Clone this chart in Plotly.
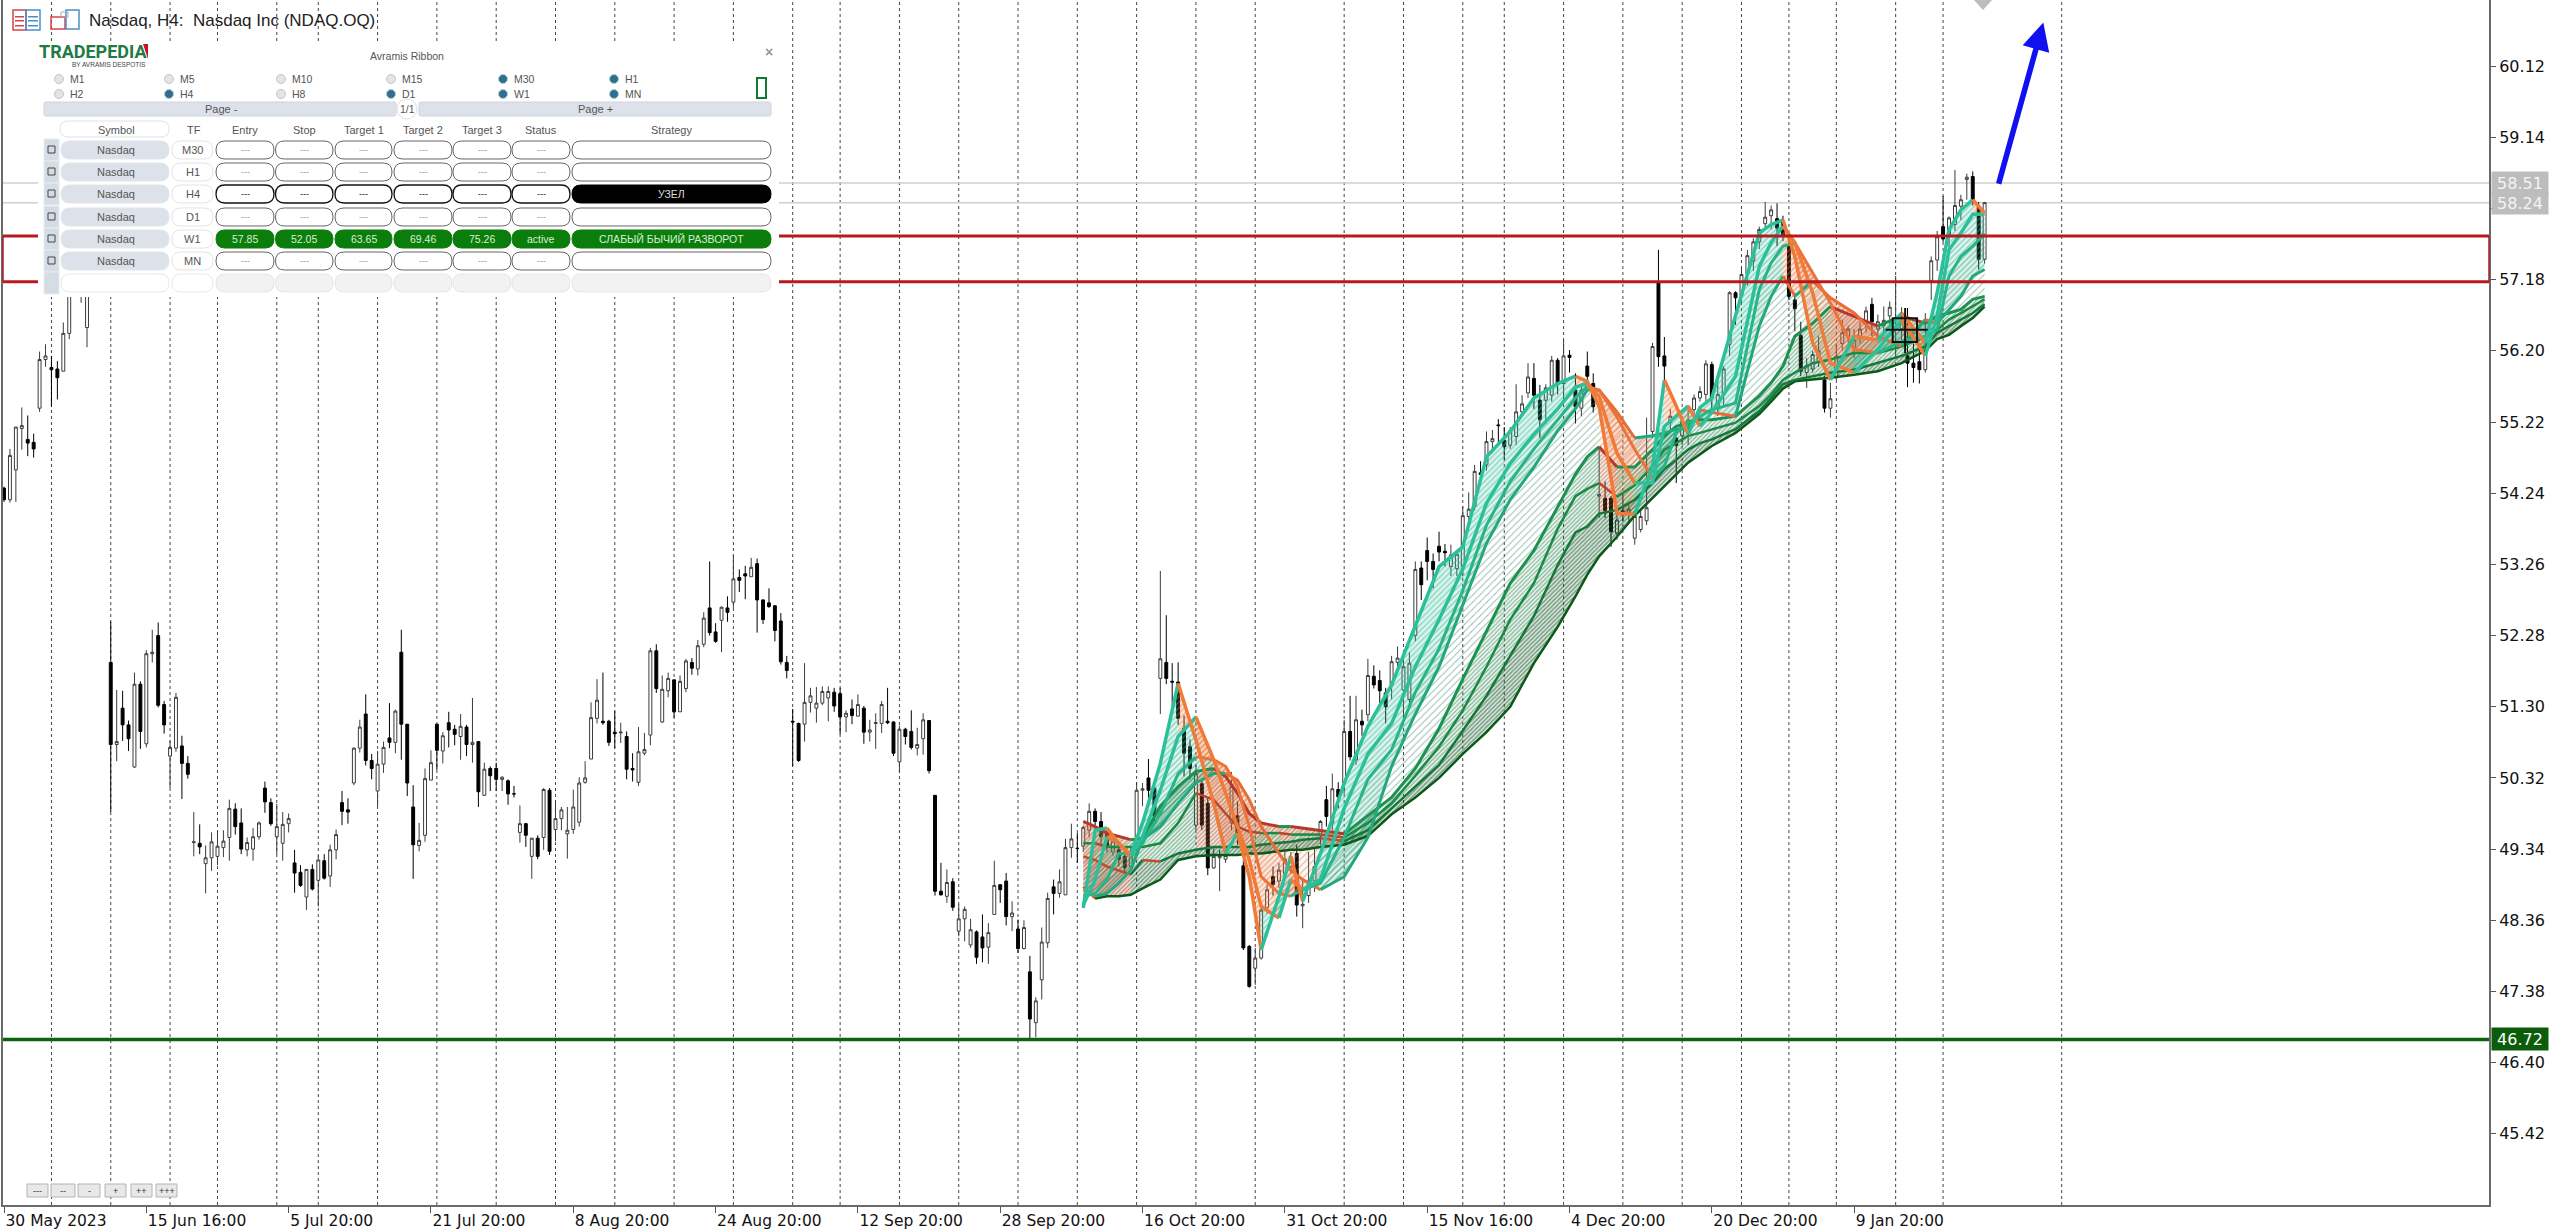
import plotly.graph_objects as go

# ---------- DATA ----------
opens = [
54.31,54.15,54.56,55.13,54.98,54.94,55.41,56.08,55.97,55.95,
55.92,56.44,None,57.0,56.52,None,None,None,51.91,50.78,
51.28,51.05,50.47,51.61,50.79,52.03,52.28,51.33,50.62,50.73,
50.76,50.52,49.43,49.42,49.14,49.22,49.24,49.36,49.50,49.89,
49.70,49.33,49.34,49.51,50.18,49.98,49.51,49.42,49.69,49.15,
49.02,48.68,49.06,48.91,49.18,48.97,49.33,49.98,49.88,50.25,
50.73,51.20,50.56,50.14,50.51,50.87,50.81,52.05,51.06,49.92,
49.39,49.53,50.29,51.06,50.69,51.08,50.99,50.89,51.02,50.78,
50.82,50.08,50.45,50.45,50.30,50.28,50.10,49.57,49.69,49.24,
49.49,49.50,50.15,49.61,49.76,49.55,49.61,49.71,50.26,50.58,
51.14,51.10,51.10,50.95,50.94,50.89,50.45,50.26,50.66,50.91,
52.07,51.09,51.52,51.67,51.23,51.55,51.91,51.82,52.16,52.66,
52.33,52.49,52.66,52.74,53.08,53.13,53.09,53.27,52.77,52.73,
52.69,52.48,51.91,51.10,51.07,51.06,51.36,51.28,51.35,51.42,
51.50,51.48,51.16,51.27,51.17,51.28,50.95,51.07,51.07,51.10,
51.09,50.54,50.99,50.96,50.73,50.86,51.11,50.08,48.76,48.69,
48.89,48.21,48.38,48.02,48.20,48.13,47.99,48.44,48.85,48.90,
48.41,48.24,47.97,47.65,46.95,47.54,48.05,48.82,48.73,48.71,
49.36,49.35,49.38,49.60,49.86,49.72,49.55,49.30,49.33,49.24,
49.10,49.51,50.15,50.32,50.18,51.69,51.91,51.65,51.64,51.00,
50.75,49.67,50.24,49.97,49.08,49.22,49.20,49.70,49.80,49.11,
48.00,47.70,47.84,48.53,48.96,48.90,49.00,49.10,49.28,48.56,
48.70,48.90,49.52,50.02,49.70,50.16,50.25,50.96,50.57,51.10,
51.19,51.72,51.66,51.49,51.60,51.91,51.53,51.40,52.28,53.21,
53.45,53.30,53.51,53.44,53.23,53.20,53.23,53.92,54.06,54.52,
54.63,54.95,55.18,54.97,54.90,55.02,55.36,55.62,55.82,55.52,
55.52,55.59,56.07,55.75,56.14,55.66,55.41,55.99,55.75,54.20,
54.17,54.17,53.69,54.00,53.95,53.62,53.74,53.86,55.09,57.14,
56.13,55.21,55.00,55.03,55.21,55.39,55.55,55.60,56.01,55.40,
55.60,56.29,57.00,56.96,57.26,57.44,57.70,57.95,58.06,58.02,
57.98,57.66,56.90,56.41,55.90,55.95,56.05,55.80,55.41,55.83,
56.30,56.40,56.25,56.40,56.58,56.84,56.50,56.55,56.68,56.50,
56.50,56.13,56.03,56.05,55.94,57.17,57.45,57.91,57.80,57.94,
58.19,58.56,58.60,58.18,57.46]
highs = [
54.33,54.85,55.15,55.42,55.31,55.06,56.19,56.29,56.13,56.06,
56.59,57.2,None,57.1,57.2,None,None,None,52.47,51.53,
51.52,51.11,51.77,51.65,52.08,52.36,52.46,51.38,50.83,51.49,
50.90,50.62,49.85,49.68,49.39,49.57,49.58,49.60,50.02,49.97,
49.90,49.50,49.63,49.72,50.27,50.04,49.96,49.85,49.83,49.33,
49.12,49.06,49.13,49.25,49.27,49.40,49.61,50.14,50.04,50.74,
51.12,51.47,50.65,50.69,50.82,51.35,51.26,52.36,51.06,50.22,
49.70,50.45,50.70,51.06,50.95,51.23,51.05,51.20,51.05,51.42,
50.82,50.53,50.48,50.53,50.34,50.30,50.21,49.94,49.70,49.49,
49.53,50.18,50.18,50.01,49.92,49.92,50.16,50.33,50.55,51.36,
51.68,51.77,51.12,51.24,51.08,50.96,50.66,51.02,50.94,52.11,
52.16,51.73,51.77,51.67,51.73,51.96,51.97,52.22,52.60,53.30,
52.45,52.68,52.82,53.38,53.19,53.24,53.35,53.34,52.78,52.93,
52.70,52.59,52.00,51.27,51.08,51.90,51.56,51.57,51.58,51.58,
51.56,51.56,51.25,51.40,51.47,51.31,51.12,51.21,51.38,51.56,
51.10,51.04,51.01,51.25,51.01,51.21,51.11,50.08,49.15,49.06,
48.94,48.58,48.55,48.38,48.22,48.44,48.32,49.18,48.85,49.01,
48.62,48.37,48.36,47.87,47.30,48.26,48.74,48.92,49.06,49.48,
49.69,49.56,49.66,49.97,49.90,49.85,49.60,49.55,49.40,49.30,
49.35,50.26,50.25,50.58,50.20,53.17,52.56,51.90,51.91,51.18,
50.85,50.50,50.30,50.05,49.35,49.33,49.35,50.40,50.00,49.20,
48.02,47.98,48.60,48.85,49.10,49.15,49.30,49.30,49.40,48.92,
49.30,49.35,49.74,50.21,50.38,50.26,51.12,51.45,51.45,51.26,
51.96,51.87,51.80,51.56,52.00,52.13,52.08,52.05,53.30,53.30,
53.63,53.41,53.71,53.54,53.53,53.46,54.06,54.25,54.63,54.68,
55.09,55.11,55.26,55.15,55.15,55.74,55.59,56.03,56.03,55.73,
55.74,56.13,56.10,56.35,56.21,55.89,55.75,56.19,55.89,54.88,
54.40,54.20,53.95,54.24,54.10,54.00,54.00,55.28,56.31,57.59,
56.39,55.40,55.00,55.30,55.45,55.60,55.71,56.07,56.05,55.85,
55.99,57.02,57.02,57.36,57.59,57.75,57.91,58.25,58.20,58.23,
58.06,57.75,57.00,56.60,56.10,56.20,56.40,55.85,55.76,56.30,
56.63,56.55,56.50,56.60,56.81,56.93,56.70,56.81,56.88,57.23,
56.80,56.79,56.30,56.30,56.72,57.50,57.85,58.33,58.05,58.69,
58.35,58.64,58.67,58.25,58.25]
lows = [
54.12,54.11,54.12,54.84,54.75,54.73,55.36,55.98,55.43,55.53,
55.92,56.36,None,56.86,56.25,None,None,None,49.85,50.55,
50.83,50.69,50.46,50.72,50.74,51.91,51.29,50.93,50.18,50.68,
50.03,50.31,49.24,49.27,48.73,49.04,49.12,49.23,49.18,49.54,
49.27,49.24,49.18,49.47,49.84,49.66,49.27,49.18,49.57,48.74,
48.82,48.50,48.77,48.55,48.92,48.82,49.20,49.67,49.69,50.22,
50.67,50.49,50.30,49.93,50.39,50.73,50.66,50.57,50.07,48.93,
49.31,49.44,50.29,50.43,50.52,50.74,50.77,50.57,50.62,50.53,
49.92,50.07,50.14,50.14,50.14,49.95,50.05,49.43,49.37,48.93,
49.20,49.33,49.26,49.45,49.60,49.21,49.55,49.65,50.24,50.58,
51.07,51.05,50.76,50.73,50.80,50.30,50.27,50.21,50.63,50.77,
51.49,51.08,51.43,51.15,51.23,51.50,51.74,51.73,52.12,52.28,
52.18,52.05,52.47,52.66,52.88,52.78,53.09,52.32,52.44,52.66,
52.20,51.88,51.69,50.48,50.54,50.82,51.22,51.08,51.32,51.10,
51.23,50.92,50.95,51.06,51.17,50.79,50.82,50.72,50.94,51.06,
50.62,50.40,50.78,50.71,50.63,50.64,50.38,48.70,48.70,48.60,
48.49,48.14,48.07,47.98,47.76,47.78,47.76,48.44,48.60,48.29,
48.21,47.91,47.96,46.73,46.75,47.27,47.98,48.44,48.67,48.71,
49.22,49.15,49.30,49.50,49.55,49.40,49.30,49.25,49.10,49.00,
49.05,49.51,49.93,50.04,49.70,51.20,51.61,51.32,51.05,50.34,
50.30,49.60,49.60,48.98,49.07,48.76,49.15,49.60,49.40,47.95,
47.43,47.47,47.82,48.45,48.70,48.80,48.90,49.00,48.41,48.25,
48.60,48.75,49.40,49.65,49.60,49.90,50.10,50.56,50.50,50.90,
51.10,51.55,51.30,51.07,51.40,51.85,51.10,51.30,52.20,52.77,
53.04,52.93,53.30,53.23,53.10,53.10,53.10,53.87,54.00,54.35,
54.55,54.79,54.93,54.70,54.85,54.90,55.30,55.55,55.40,55.00,
55.20,55.50,55.60,55.50,55.90,55.20,55.30,55.80,55.35,53.90,
53.90,53.50,53.60,53.85,53.85,53.53,53.70,53.80,55.00,55.98,
55.76,55.10,54.38,54.90,54.90,55.30,55.50,55.50,55.40,55.30,
55.45,56.13,56.56,56.86,57.10,57.30,57.60,57.87,57.87,57.64,
57.71,56.90,56.47,55.85,55.69,55.90,55.98,55.35,55.28,55.80,
56.20,56.30,56.10,56.30,56.45,56.40,56.40,56.40,56.50,56.10,
56.30,55.70,55.76,55.75,55.90,56.90,57.30,57.70,57.55,57.85,
58.00,58.28,58.20,57.32,57.40]
closes = [
54.15,54.76,55.15,55.17,54.93,54.85,56.08,56.13,55.94,55.83,
56.44,57.05,None,57.05,57.1,None,None,None,50.78,50.82,
51.05,50.86,51.61,50.96,52.03,52.05,51.32,51.05,50.74,51.43,
50.52,50.37,49.44,49.37,49.22,49.44,49.38,49.45,49.90,49.65,
49.34,49.43,49.51,49.70,49.99,49.69,49.65,49.68,49.76,49.01,
48.84,49.06,48.79,49.19,48.94,49.33,49.54,49.86,49.85,50.73,
51.02,50.56,50.45,50.51,50.74,50.81,51.24,51.06,50.25,49.40,
49.46,50.31,50.53,50.70,50.90,50.98,50.92,51.03,50.78,50.81,
50.13,50.44,50.35,50.30,50.33,50.10,50.10,49.69,49.53,49.49,
49.24,50.16,49.31,49.76,49.88,49.60,49.92,50.25,50.32,51.15,
51.39,51.08,50.81,50.93,50.95,50.44,50.43,50.68,50.71,52.07,
51.55,51.54,51.69,51.23,51.65,51.93,51.83,52.14,52.52,52.32,
52.20,52.67,52.60,53.06,53.04,53.10,53.22,52.77,52.50,52.68,
52.35,51.92,51.80,51.09,50.56,51.36,51.45,51.35,51.51,51.51,
51.31,51.16,51.21,51.18,51.33,50.95,50.98,51.08,51.33,51.08,
50.66,50.99,50.89,50.74,50.78,51.12,50.42,48.76,48.71,48.88,
48.54,48.38,48.51,48.23,47.85,47.98,48.19,48.84,48.78,48.41,
48.46,47.97,48.26,47.00,47.25,48.06,48.66,48.73,48.89,49.36,
49.48,49.35,49.64,49.86,49.72,49.51,49.37,49.45,49.20,49.08,
49.25,50.15,50.17,50.15,49.79,51.96,51.69,51.64,51.14,50.66,
50.45,50.38,49.67,49.08,49.24,49.24,49.25,50.20,49.50,47.98,
47.45,47.84,48.50,48.78,48.85,49.05,49.20,49.20,48.57,48.58,
48.90,49.10,49.72,49.79,50.17,50.06,50.96,50.61,51.12,51.05,
51.73,51.60,51.52,51.30,51.92,51.97,51.85,51.90,53.19,52.98,
53.30,53.19,53.43,53.42,53.39,53.40,53.93,54.02,54.54,54.50,
54.95,54.99,55.17,54.88,55.10,55.36,55.47,55.84,55.59,55.25,
55.69,56.07,55.75,56.13,56.11,55.43,55.66,55.85,55.43,54.22,
54.00,53.71,53.87,53.94,54.02,53.92,53.92,54.04,56.26,56.12,
55.99,55.30,54.90,55.23,55.25,55.55,55.64,56.02,55.55,55.60,
55.95,57.00,56.93,57.25,57.51,57.70,57.87,58.04,58.14,57.89,
57.78,56.95,56.78,55.92,56.00,56.15,56.20,55.41,55.54,56.13,
56.45,56.50,56.35,56.50,56.75,56.60,56.60,56.62,56.80,56.52,
56.60,56.03,55.97,55.94,56.15,57.44,57.77,57.74,58.03,58.20,
58.28,58.59,58.28,57.46,58.24]

ribbon_bars = [182,184,186,188,190,192,195,198,201,204,206,208,210,212,215,217,219,222,226,230,234,238,242,246,250,254,258,262,265,267,269,272,275,278,280,282,284,286,288,292,296,298,300,302,305,308,312,316,320,324,326,328,330,332,334]
ribbon_a = [48.53,49.6,49.63,49.42,49.26,49.70,50.52,51.62,50.84,49.97,49.28,49.56,48.96,47.95,48.69,49.24,48.62,49.28,50.25,51.03,51.6,52.4,53.23,53.5,54.74,55.09,55.55,55.75,55.85,55.78,55.43,53.96,53.95,54.61,55.8,55.44,55.05,55.42,55.55,56.68,57.82,57.94,58.0,57.5,56.31,55.8,56.4,56.35,56.72,56.31,57.0,57.87,58.14,58.28,58.1]
ribbon_b = [48.57,48.92,49.51,49.42,49.24,49.51,50.15,50.89,51.16,50.57,50.11,49.65,49.19,48.55,48.39,48.92,48.78,48.92,49.9,50.65,51.07,51.85,52.5,53.2,54.1,54.65,55.05,55.4,55.7,55.75,55.57,54.79,54.38,54.38,55.16,55.3,55.44,55.16,55.35,55.85,57.36,57.69,57.92,57.69,57.0,56.03,55.9,56.22,56.63,56.13,56.68,57.59,57.82,58.08,58.08]
ribbon_c = [48.69,48.73,48.92,49.28,49.28,49.42,49.83,50.38,50.61,50.57,50.48,50.2,49.65,48.96,48.73,48.69,48.78,48.87,49.5,50.3,50.71,51.5,52.1,52.9,53.8,54.4,54.85,55.25,55.55,55.71,55.66,55.29,54.84,54.45,54.61,55.07,55.21,55.3,55.39,55.48,57.04,57.41,57.64,57.69,57.27,56.86,56.22,56.17,56.33,56.4,56.49,57.23,57.5,57.64,57.82]
ribbon_d = [48.78,48.69,48.73,48.87,49.05,49.47,49.65,49.97,50.25,50.38,50.38,50.29,50.02,49.65,49.28,49.05,48.92,48.78,48.96,49.5,50.48,51.2,51.85,52.7,53.55,54.15,54.6,55.1,55.4,55.66,55.66,55.36,55.0,55.03,55.07,55.12,55.12,55.39,55.35,55.3,56.54,56.95,57.23,56.95,57.16,56.93,56.72,56.4,56.26,56.63,56.58,56.77,56.95,57.23,57.32]
ribbon_e = [49.72,49.65,49.56,49.51,49.47,49.49,49.93,50.2,50.41,50.45,50.34,50.11,49.83,49.7,49.65,49.65,49.63,49.6,49.55,49.8,50.05,50.45,51.0,51.68,52.35,53.0,53.45,54.05,54.5,54.74,54.88,54.6,54.6,54.84,55.03,55.16,55.21,55.25,55.25,55.3,55.58,55.76,55.99,56.4,56.58,56.81,56.68,56.54,56.68,56.58,56.68,56.72,56.77,56.91,56.95]
ribbon_f = [49.42,49.42,49.37,49.37,49.37,49.37,49.42,49.7,50.11,50.02,49.83,49.65,49.58,49.56,49.56,49.54,49.54,49.54,49.5,49.7,49.97,50.35,50.75,51.25,51.85,52.5,53.0,53.75,54.2,54.3,54.38,54.19,54.35,54.61,54.84,54.93,55.03,55.07,55.12,55.21,55.44,55.6,55.8,55.9,56.03,56.08,56.17,56.17,56.26,56.4,56.49,56.63,56.72,56.81,56.91]
ribbon_g = [49.24,49.19,49.1,49.05,48.99,49.19,49.17,49.28,49.33,49.37,49.37,49.37,49.37,49.4,49.42,49.44,49.47,49.49,49.45,49.6,49.9,50.2,50.5,50.97,51.45,52.0,52.55,53.25,53.7,53.78,53.96,54.01,54.15,54.38,54.57,54.7,54.84,54.93,54.98,55.12,55.37,55.55,55.74,55.8,55.85,55.9,55.94,56.03,56.13,56.26,56.45,56.54,56.63,56.72,56.84]
ribbon_h = [48.82,48.66,48.69,48.69,48.71,48.8,48.92,49.19,49.24,49.26,49.26,49.26,49.28,49.28,49.31,49.33,49.33,49.37,49.4,49.52,49.82,50.05,50.32,50.65,50.95,51.3,51.9,52.4,52.82,53.12,53.37,53.64,53.93,54.18,54.34,54.5,54.66,54.77,54.89,55.07,55.33,55.5,55.68,55.78,55.8,55.83,55.87,55.92,56.03,56.2,56.36,56.42,56.54,56.65,56.81]

session_bars = [8,18,28,36,46,53,63,73,83,93,103,113,123,133,141,151,161,171,181,191,201,211,226,236,246,253,263,273,283,293,301,309,319,327,347]
time_tick_bars = [0,24,48,72,96,120,144,168,192,216,240,264,288,312]
time_tick_labels = ["30 May 2023","15 Jun 16:00","5 Jul 20:00","21 Jul 20:00","8 Aug 20:00","24 Aug 20:00","12 Sep 20:00","28 Sep 20:00","16 Oct 20:00","31 Oct 20:00","15 Nov 16:00","4 Dec 20:00","20 Dec 20:00","9 Jan 20:00"]
price_ticks = [60.12,59.14,58.16,57.18,56.20,55.22,54.24,53.26,52.28,51.30,50.32,49.34,48.36,47.38,46.40,45.42]
zone_levels = [57.78,57.15]
quote_levels = [58.51,58.24]
support_level = 46.72
arrow_from = (336.3,58.48)
arrow_to = (343.9,60.72)

panel_timeframes = [["M1","M5","M10","M15","M30","H1"],["H2","H4","H8","D1","W1","MN"]]
panel_selected = {"M30","H1","H4","D1","W1","MN"}
panel_headers = ["Entry","Stop","Target 1","Target 2","Target 3","Status"]
panel_rows = ["M30","H1","H4","D1","W1","MN"]
w1_values = ["57.85","52.05","63.65","69.46","75.26","active"]
w1_strategy = "СЛАБЫЙ БЫЧИЙ РАЗВОРОТ"
h4_strategy = "УЗЕЛ"
button_labels = ["---","--","-","+","++","+++"]

assert all(len(v)==335 for v in (opens,highs,lows,closes))
assert all(len(v)==len(ribbon_bars) for v in (ribbon_a,ribbon_b,ribbon_c,ribbon_d,ribbon_e,ribbon_f,ribbon_g,ribbon_h))

# ---------- STYLE / LAYOUT ----------
W,H=2560,1230
L,R,T,B=3,71,0,25
PW,PH=W-L-R,H-T-B
def xp(px): return (px-L)/PW
def yp(py): return 1-(py-T)/PH
FONT="DejaVu Sans"
UI="Liberation Sans"

fig=go.Figure()
fig.add_trace(go.Candlestick(x=list(range(335)),open=opens,high=highs,low=lows,close=closes,
    increasing=dict(line=dict(color="#3c3c3c",width=1),fillcolor="#ffffff"),
    decreasing=dict(line=dict(color="#000000",width=1),fillcolor="#000000"),
    whiskerwidth=0,showlegend=False,hoverinfo="skip"))

def runs(vals):
    out=[];start=0
    sign=lambda k: vals[k+1]>=vals[k]
    for k in range(1,len(vals)-1):
        if sign(k)!=sign(k-1):
            out.append((start,k,sign(start)));start=k
    out.append((start,len(vals)-1,sign(start)))
    return out

lines=[ribbon_a,ribbon_b,ribbon_c,ribbon_d,ribbon_e,ribbon_f,ribbon_g,ribbon_h]
band_style=[
 # up fg, up bg, down fg, down bg, size, solidity
 ("#2bbd94","rgba(43,189,148,0.16)","#ef7a3a","rgba(239,122,58,0.18)",4,0.35),
 ("#2bae84","rgba(43,189,148,0.14)","#e8703a","rgba(239,122,58,0.16)",4,0.35),
 ("#259e78","rgba(43,174,132,0.16)","#e0683a","rgba(232,112,58,0.16)",4,0.35),
 ("#2f7f5f","rgba(255,255,255,0.0)","#c8603a","rgba(225,150,90,0.08)",5,0.2),
 ("#1f7f45","rgba(40,140,80,0.08)","#a8502f","rgba(190,120,70,0.15)",3,0.38),
 ("#1a7a40","rgba(30,130,70,0.10)","#a0462a","rgba(180,110,60,0.16)",3,0.42),
 ("#0f5224","rgba(20,90,40,0.15)","#98402a","rgba(170,90,50,0.18)",3,0.5),
]
for b,(up_fg,up_bg,dn_fg,dn_bg,size,sol) in enumerate(band_style):
    upper,lower=lines[b],lines[b+1]
    mid=[(p+q)/2 for p,q in zip(upper,lower)]
    for s,e,up in runs(mid):
        xs=ribbon_bars[s:e+1]+ribbon_bars[s:e+1][::-1]
        ys=upper[s:e+1]+lower[s:e+1][::-1]
        fig.add_trace(go.Scatter(x=xs,y=ys,mode="none",fill="toself",showlegend=False,hoverinfo="skip",
            fillcolor=up_bg if up else dn_bg,
            fillpattern=dict(shape="/",size=size,solidity=sol,fgcolor=up_fg if up else dn_fg,
                             bgcolor=up_bg if up else dn_bg,fillmode="overlay")))

line_style=[("#2cc09a","#f07a38",3.5),("#2cc09a","#f07a38",3.5),("#26b489","#ec7238",3),("#22a87a","#e86c35",3),
            ("#1c9150","#b5382a",3),("#1a8a46","#b8452c",2.5),("#15783a","#c04e2c",2.5),("#0a5a18","#d0562c",2.5)]
for ln,(up_c,dn_c,wd) in list(zip(lines,line_style))[::-1]:
    for s,e,up in runs(ln):
        fig.add_trace(go.Scatter(x=ribbon_bars[s:e+1],y=ln[s:e+1],mode="lines",showlegend=False,hoverinfo="skip",
            line=dict(color=up_c if up else dn_c,width=wd,shape="linear")))

shapes=[];ann=[]
for b in session_bars:
    shapes.append(dict(type="line",xref="x",yref="paper",x0=b,x1=b,y0=0,y1=1,layer="below",
                       line=dict(color="#444444",width=1,dash="3px,3px")))
for q in quote_levels:
    shapes.append(dict(type="line",xref="paper",yref="y",x0=0,x1=1,y0=q,y1=q,layer="below",line=dict(color="#cfcfcf",width=1.5)))
for q in zone_levels:
    shapes.append(dict(type="line",xref="paper",yref="y",x0=0,x1=1,y0=q,y1=q,line=dict(color="#b81820",width=3)))
for side in (0,1):
    shapes.append(dict(type="line",xref="paper",yref="y",x0=side,x1=side,y0=zone_levels[1],y1=zone_levels[0],line=dict(color="#a82028",width=1.5)))
shapes.append(dict(type="line",xref="paper",yref="y",x0=0,x1=1,y0=support_level,y1=support_level,line=dict(color="#0d6410",width=3.5)))

# crosshair object
shapes.append(dict(type="rect",xref="x",yref="y",x0=318.5,x1=322.6,y0=56.32,y1=56.65,line=dict(color="#111",width=2)))
shapes.append(dict(type="line",xref="x",yref="y",x0=317.3,x1=324.4,y0=56.49,y1=56.49,line=dict(color="#111",width=2)))
shapes.append(dict(type="line",xref="x",yref="y",x0=320.6,x1=320.6,y0=56.17,y1=56.79,line=dict(color="#111",width=2)))

def pt(x,y): return f"{xp(x):.5f},{yp(y):.5f}"
def pill(x0,y0,x1,y1,fill="#ffffff",line="#cccccc",lw=1,r=None):
    r=(y1-y0)/2 if r is None else r
    p=(f"M{pt(x0+r,y0)} L{pt(x1-r,y0)} Q{pt(x1,y0)} {pt(x1,y0+r)} L{pt(x1,y1-r)} Q{pt(x1,y1)} {pt(x1-r,y1)} "
       f"L{pt(x0+r,y1)} Q{pt(x0,y1)} {pt(x0,y1-r)} L{pt(x0,y0+r)} Q{pt(x0,y0)} {pt(x0+r,y0)} Z")
    shapes.append(dict(type="path",xref="paper",yref="paper",path=p,fillcolor=fill,
                       line=dict(color=line,width=lw)))
def rect(x0,y0,x1,y1,fill="rgba(0,0,0,0)",line="rgba(0,0,0,0)",lw=1):
    shapes.append(dict(type="rect",xref="paper",yref="paper",x0=xp(x0),x1=xp(x1),y0=yp(y1),y1=yp(y0),
                       fillcolor=fill,line=dict(color=line,width=lw)))
def circ(cx,cy,r,fill,line):
    shapes.append(dict(type="circle",xref="paper",yref="paper",x0=xp(cx-r),x1=xp(cx+r),y0=yp(cy+r),y1=yp(cy-r),
                       fillcolor=fill,line=dict(color=line,width=1)))
def txt(x,y,s,size=11,color="#555555",anchor="center",font=UI,bold=False):
    ann.append(dict(x=xp(x),y=yp(y),xref="paper",yref="paper",text=f"<b>{s}</b>" if bold else s,showarrow=False,
                    xanchor=anchor,yanchor="middle",font=dict(family=font,size=size,color=color),borderpad=0))

# panel background
rect(38,41,779,297,fill="#ffffff")
# title + icons
rect(13,10,26,30,line="#d8434a",lw=1.5); rect(26,10,40,30,line="#4a90c8",lw=1.5)
for yy in (16,20,25):
    rect(15,yy,24,yy+1.5,fill="#d8434a"); rect(28,yy,38,yy+1.5,fill="#4a90c8")
rect(51,17,65,29,line="#d8434a",lw=1.5); rect(66,10,79,29,line="#4a90c8",lw=1.5); rect(61,12,68,17,line="#aaaaaa")
txt(88,20,"Nasdaq, H4:&nbsp;&nbsp;Nasdaq Inc (NDAQ.OQ)",17,"#222222","left")
# logo
txt(38,52,"TRADEPEDIA",18,"#1f7a44","left","Roboto",True)
shapes.append(dict(type="path",xref="paper",yref="paper",path=f"M{pt(143,44)} L{pt(148,44)} L{pt(148,59)} Z",fillcolor="#c8141e",line=dict(width=0)))
txt(147,64,"BY AVRAMIS DESPOTIS",6.5,"#444444","right")
txt(407,56,"Avramis Ribbon",10.5,"#555555")
txt(769,52,"×",14,"#999999",bold=True)
# radios
radio_x=[59,169,281,391,503,614]
for row,yy in zip(panel_timeframes,(79,94)):
    for name,xx in zip(row,radio_x):
        sel=name in panel_selected
        circ(xx,yy,4.5,"#2f6f8f" if sel else "#e4e4e4","#b8cdd8" if sel else "#c4c4c4")
        txt(xx+10,yy,name,10.5,"#555555","left")
rect(757,78,766,98,line="#0f7a2a",lw=2)
# page bars
pill(44,102,396,116,fill="#dde2ea",line="#d0d4da",r=2)
pill(419,102,771,116,fill="#dde2ea",line="#d0d4da",r=2)
circ(407,109,10,"#ffffff","#e0e0e0")
txt(221,109,"Page -",11); txt(595,109,"Page +",11); txt(407,109,"1/1",10.5)
# header
pill(60,121,169,137,fill="#ffffff",line="#e2e2e2")
txt(116,130,"Symbol",11); txt(194,130,"TF",11)
cols=[(216,274),(275.5,333),(335,392),(394,452),(453,511),(512,570)]
for (a,b_),h in zip(cols,panel_headers): txt((a+b_)/2,130,h,11)
txt(672,130,"Strategy",11)
# rows
row_y=[150,172,194,217,239,261]
for name,yy in zip(panel_rows,row_y):
    rect(44,yy-11,59,yy+11,fill="#d6dce6",line="#e8eaee")
    rect(48,yy-4,55,yy+3,line="#444444")
    pill(61,yy-9,169,yy+9,fill="#dde2ea",line="#e2e6ec")
    txt(116,yy,"Nasdaq",11)
    pill(172,yy-9,213,yy+9,fill="#ffffff",line="#e4e4e4")
    txt(193,yy,name,11)
    on_w1=name=="W1"; on_h4=name=="H4"
    for idx,(a,b_) in enumerate(cols):
        if on_w1:
            pill(a,yy-9,b_,yy+9,fill="#0b7d0b",line="#0b7d0b")
            txt((a+b_)/2,yy,w1_values[idx],10.5,"#d8f0d8")
        else:
            pill(a,yy-9,b_,yy+9,fill="#ffffff",line="#111111" if on_h4 else "#666666",lw=1.3 if on_h4 else 1)
            txt((a+b_)/2,yy,"---",9,"#111111" if on_h4 else "#999999")
    if on_w1:
        pill(572,yy-9,771,yy+9,fill="#0b7d0b",line="#0b7d0b"); txt(672,yy,w1_strategy,10.5,"#d8f0d8")
    elif on_h4:
        pill(572,yy-9,771,yy+9,fill="#000000",line="#000000"); txt(672,yy,h4_strategy,10.5,"#dddddd")
    else:
        pill(572,yy-9,771,yy+9,fill="#ffffff",line="#666666")
yy=283
rect(44,yy-11,59,yy+11,fill="#d6dce6",line="#e8eaee")
pill(61,yy-9,169,yy+9,fill="#ffffff",line="#e8e8e8")
pill(172,yy-9,213,yy+9,fill="#ffffff",line="#e8e8e8")
for a,b_ in cols+[(572,771)]:
    pill(a,yy-9,b_,yy+9,fill="#f2f2f2",line="#e6e6e6")

# bottom buttons
for (a,b_),s in zip([(27,48),(51,75),(78,100),(105,126),(131,152),(156,177)],button_labels):
    rect(a,1184,b_,1197,fill="#e8e8e8",line="#b4b4b4")
    txt((a+b_)/2,1190.5,s,9,"#333333")

# top marker
shapes.append(dict(type="path",xref="paper",yref="paper",path=f"M{pt(1974,0)} L{pt(1992,0)} L{pt(1983,10)} Z",fillcolor="#bdbdbd",line=dict(width=0)))

# price tags
for q in quote_levels:
    ann.append(dict(x=xp(2491),y=q,xref="paper",yref="y",text=f"{q:.2f}",showarrow=False,xanchor="left",yanchor="middle",
                    bgcolor="#bdbdbd",width=54,height=20,align="center",font=dict(family=FONT,size=16,color="#f4f4f4")))
ann.append(dict(x=xp(2491),y=support_level,xref="paper",yref="y",text=f"{support_level:.2f}",showarrow=False,xanchor="left",yanchor="middle",
                bgcolor="#0b5d0b",width=54,height=20,align="center",font=dict(family=FONT,size=16,color="#ffffff")))
# blue arrow
ann.append(dict(x=arrow_to[0],y=arrow_to[1],ax=arrow_from[0],ay=arrow_from[1],xref="x",yref="y",axref="x",ayref="y",
                text="",showarrow=True,arrowhead=2,arrowsize=1,arrowwidth=5.5,arrowcolor="#1010f0"))

fig.update_layout(width=W,height=H,margin=dict(l=L,r=R,t=T,b=B,autoexpand=False),paper_bgcolor="#ffffff",plot_bgcolor="#ffffff",
    showlegend=False,shapes=shapes,annotations=ann,hovermode=False,dragmode=False,
    xaxis=dict(range=[-0.17,419.06],tickmode="array",tickvals=time_tick_bars,ticktext=time_tick_labels,
               ticklabelposition="outside right",ticks="outside",ticklen=6,tickcolor="#555555",showgrid=False,zeroline=False,
               rangeslider=dict(visible=False),showline=True,linecolor="#6a6a6a",linewidth=2,mirror=True,
               tickfont=dict(family=FONT,size=15.5,color="#111111")),
    yaxis=dict(range=[44.44,61.03],side="right",tickmode="array",tickvals=price_ticks,tickformat=".2f",ticks="outside",ticklen=5,
               tickcolor="#555555",showgrid=False,zeroline=False,showline=True,linecolor="#6a6a6a",linewidth=2,mirror=True,
               tickfont=dict(family=FONT,size=16,color="#111111")))
fig.write_html("out.html",config=dict(displayModeBar=False),post_script="document.body.style.margin='0';document.body.style.overflow='hidden';")
